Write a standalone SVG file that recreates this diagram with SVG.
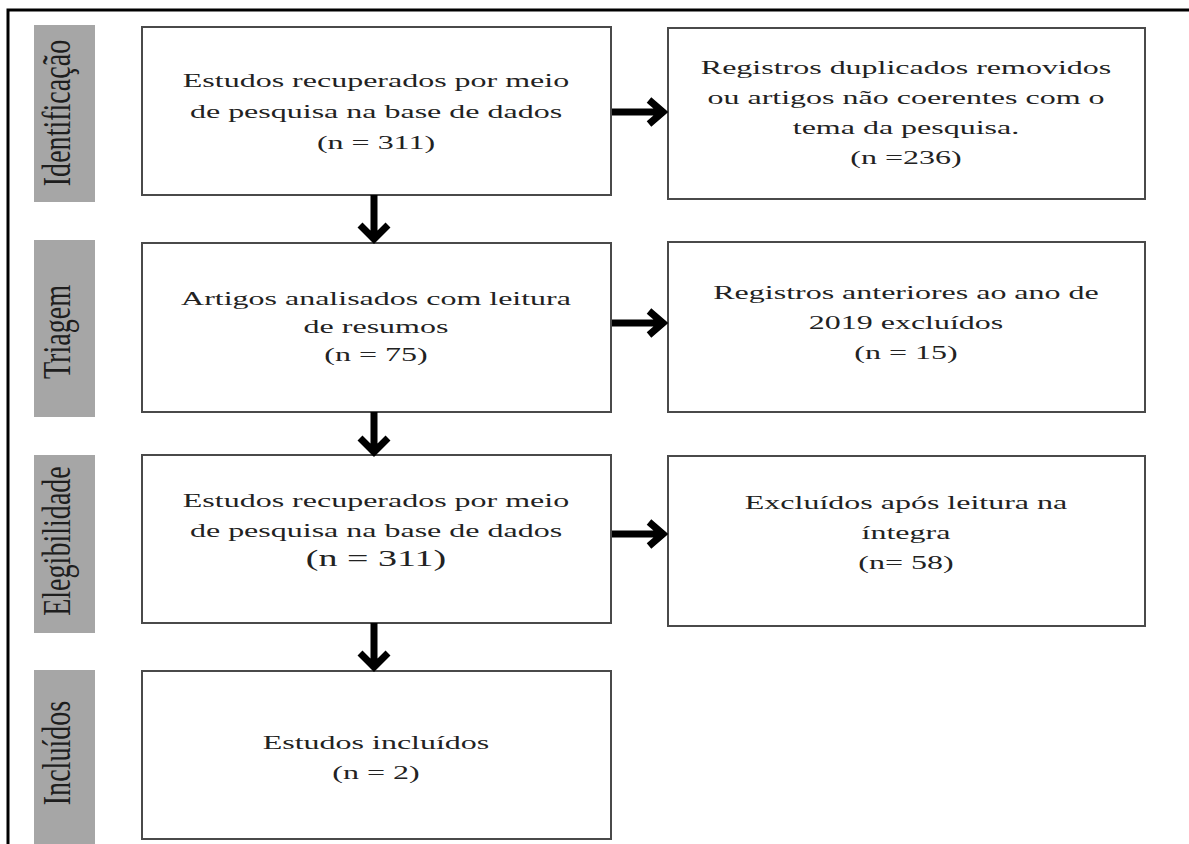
<svg xmlns="http://www.w3.org/2000/svg" width="1189" height="844" viewBox="0 0 1189 844">
<style>
.box{fill:#fff;stroke:#4a4a4a;stroke-width:2}
.side{fill:#a6a6a6}
.t{font-family:"Liberation Serif","Times New Roman",serif;font-size:32px;fill:#222;text-anchor:middle}
.big{font-size:38px}
.st{font-family:"Liberation Serif","Times New Roman",serif;font-size:39px;fill:#1e1e1e;text-anchor:middle}
.arr{fill:none;stroke:#000;stroke-width:7;stroke-linejoin:miter}
</style>
<rect width="1189" height="844" fill="#fff"/>
<path d="M8,844 V10 H1189" fill="none" stroke="#000" stroke-width="3"/>

<g id="phase-identificacao">
<rect class="side" x="34" y="25" width="61" height="177"/>
<text class="st" transform="translate(70,113) scale(1,0.72) rotate(-90)">Identificação</text>
</g>
<g id="phase-triagem">
<rect class="side" x="34" y="240" width="61" height="177"/>
<text class="st" transform="translate(70,332) scale(1,0.72) rotate(-90)">Triagem</text>
</g>
<g id="phase-elegibilidade">
<rect class="side" x="34" y="455" width="61" height="178"/>
<text class="st" transform="translate(70,541) scale(1,0.72) rotate(-90)">Elegibilidade</text>
</g>
<g id="phase-incluidos">
<rect class="side" x="34" y="670" width="61" height="180"/>
<text class="st" transform="translate(70,753) scale(1,0.72) rotate(-90)">Incluídos</text>
</g>

<g id="n1">
<rect class="box" x="142" y="27" width="469" height="168"/>
<text class="t" transform="translate(376,87) scale(1,0.62)">Estudos recuperados por meio</text>
<text class="t" transform="translate(376,118) scale(1,0.62)">de pesquisa na base de dados</text>
<text class="t" transform="translate(376,149) scale(1,0.62)">(n = 311)</text>
</g>
<g id="n2">
<rect class="box" x="668" y="28" width="477" height="171"/>
<text class="t" transform="translate(906,74) scale(1,0.62)">Registros duplicados removidos</text>
<text class="t" transform="translate(906,104) scale(1,0.62)">ou artigos não coerentes com o</text>
<text class="t" transform="translate(906,134) scale(1,0.62)">tema da pesquisa.</text>
<text class="t" transform="translate(906,164) scale(1,0.62)">(n =236)</text>
</g>
<g id="n3">
<rect class="box" x="142" y="243" width="469" height="169"/>
<text class="t" transform="translate(376,305) scale(1,0.62)">Artigos analisados com leitura</text>
<text class="t" transform="translate(376,333) scale(1,0.62)">de resumos</text>
<text class="t" transform="translate(376,361) scale(1,0.62)">(n = 75)</text>
</g>
<g id="n4">
<rect class="box" x="668" y="242" width="477" height="170"/>
<text class="t" transform="translate(906,299) scale(1,0.62)">Registros anteriores ao ano de</text>
<text class="t" transform="translate(906,329) scale(1,0.62)">2019 excluídos</text>
<text class="t" transform="translate(906,359) scale(1,0.62)">(n = 15)</text>
</g>
<g id="n5">
<rect class="box" x="142" y="455" width="469" height="168"/>
<text class="t" transform="translate(376,507) scale(1,0.62)">Estudos recuperados por meio</text>
<text class="t" transform="translate(376,537) scale(1,0.62)">de pesquisa na base de dados</text>
<text class="t big" transform="translate(376,566) scale(1,0.62)">(n = 311)</text>
</g>
<g id="n6">
<rect class="box" x="668" y="456" width="477" height="170"/>
<text class="t" transform="translate(906,509) scale(1,0.62)">Excluídos após leitura na</text>
<text class="t" transform="translate(906,539) scale(1,0.62)">íntegra</text>
<text class="t" transform="translate(906,569) scale(1,0.62)">(n= 58)</text>
</g>
<g id="n7">
<rect class="box" x="142" y="671" width="469" height="168"/>
<text class="t" transform="translate(376,749) scale(1,0.62)">Estudos incluídos</text>
<text class="t" transform="translate(376,779) scale(1,0.62)">(n = 2)</text>
</g>

<g id="connectors">
<path class="arr" d="M374,195 V238 M360,225 L374,239 L388,225"/>
<path class="arr" d="M374,412 V451 M360,438 L374,452 L388,438"/>
<path class="arr" d="M374,623 V666 M360,653 L374,667 L388,653"/>
<path class="arr" d="M612,112 H662 M649,100 L663,112 L649,124"/>
<path class="arr" d="M612,323 H662 M649,311 L663,323 L649,335"/>
<path class="arr" d="M612,534 H662 M649,522 L663,534 L649,546"/>
</g>
</svg>
